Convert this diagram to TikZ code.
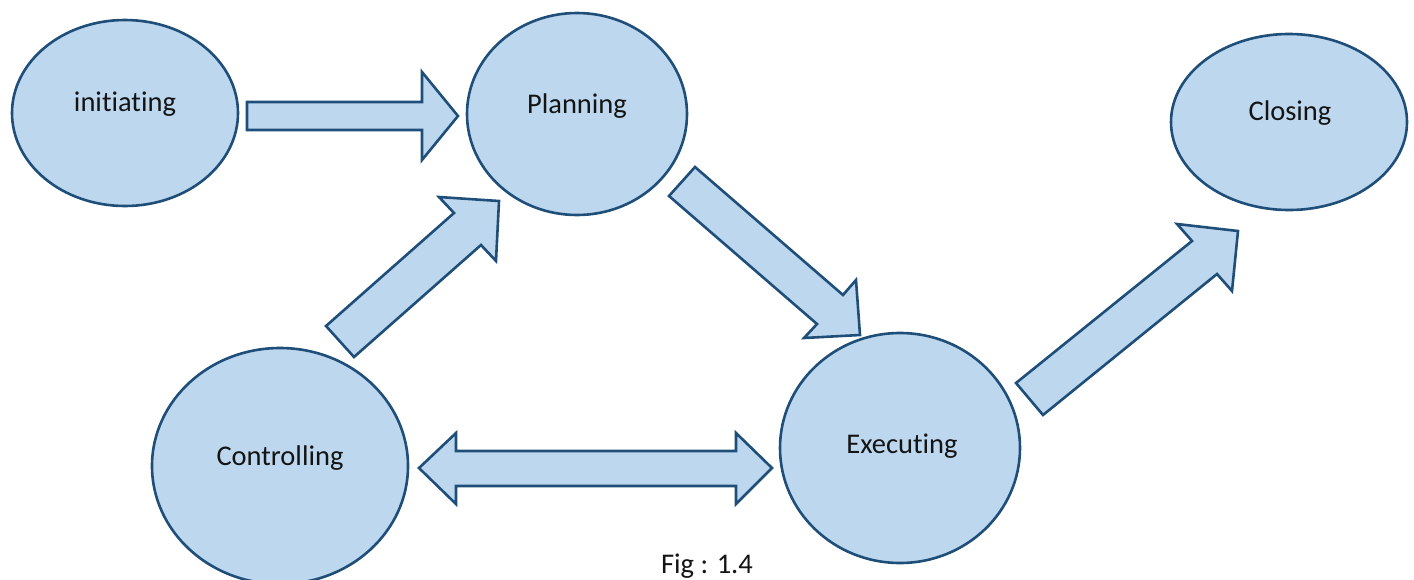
\documentclass[tikz,border=0pt]{standalone}
\usepackage{fontspec}
\setmainfont{Carlito}[Ligatures={NoCommon}]
\usetikzlibrary{shapes.geometric}
\definecolor{fillblue}{HTML}{BDD7EE}
\definecolor{edgeblue}{HTML}{1F4E79}
\tikzset{
  phase/.style={ellipse, draw=edgeblue, fill=fillblue, line width=2.6pt, inner sep=0pt},
  blockarrow/.style={draw=edgeblue, fill=fillblue, line width=2.6pt, line join=miter},
  lbl/.style={font=\fontsize{28.5}{30}\selectfont, text=black!92, inner sep=0pt}
}
\begin{document}
\begin{tikzpicture}[x=1pt,y=-1pt]
\useasboundingbox (0,0) rectangle (1414,579);
% ellipses
\node[phase, minimum width=226pt, minimum height=186pt] (init) at (125,113) {};
\node[phase, minimum width=220pt, minimum height=202pt] (plan) at (577,114) {};
\node[phase, minimum width=236pt, minimum height=176pt] (clos) at (1289,122) {};
\node[phase, minimum width=256pt, minimum height=236pt] (ctrl) at (280,466) {};
\node[phase, minimum width=240pt, minimum height=230pt] (exec) at (900,448) {};
% labels
\node[lbl] (tinit) at (125,104) {initiating};
\node[lbl] (tplan) at (577,106) {Planning};
\node[lbl] (tclos) at (1290,113) {Closing};
\node[lbl] (tctrl) at (280,458) {Controlling};
\node[lbl] (texec) at (902,446) {Executing};
\node[lbl, anchor=base] (fig) at (707,573) {Fig : 1.4};
% block arrows
\draw[blockarrow] (247,102) -- (422,102) -- (422,72) -- (458,116) -- (422,160) -- (422,130) -- (247,130) -- cycle;
\draw[blockarrow] (354,357) -- (326,326) -- (454,213) -- (439,197) -- (499,201) -- (496,261) -- (481,245) -- cycle;
\draw[blockarrow] (695,167) -- (843,295) -- (856,280) -- (860,335) -- (804,338) -- (817,324) -- (669,196) -- cycle;
\draw[blockarrow] (1043,415) -- (1016,383) -- (1192,241) -- (1177,224) -- (1238,231) -- (1232,291) -- (1217,274) -- cycle;
\draw[blockarrow] (419,468) -- (456,433) -- (456,451) -- (736,451) -- (736,433) -- (772,468) -- (736,504) -- (736,486) -- (456,486) -- (456,504) -- cycle;
\end{tikzpicture}
\end{document}
